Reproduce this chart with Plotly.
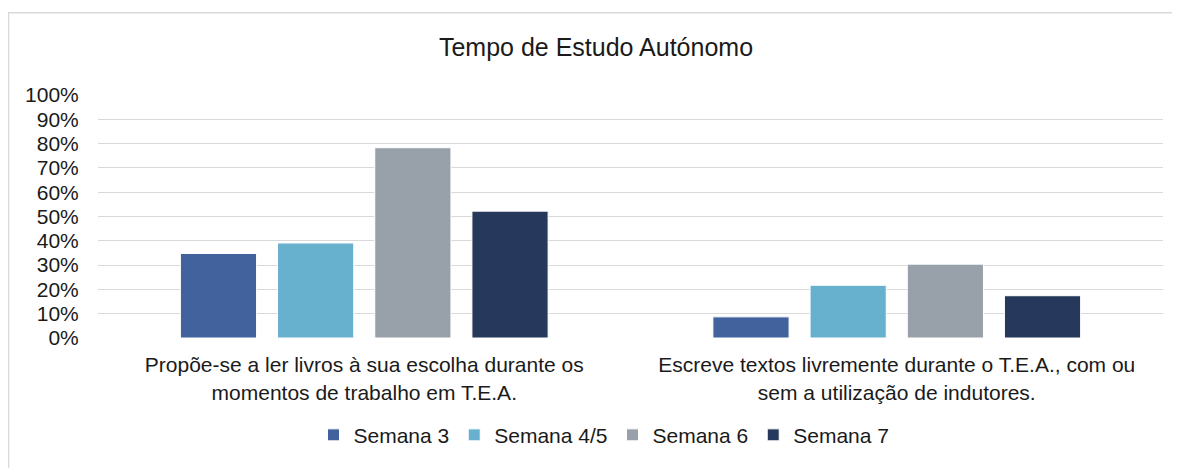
import plotly.graph_objects as go

categories = [
    "Propõe-se a ler livros à sua escolha durante os<br>momentos de trabalho em T.E.A.",
    "Escreve textos livremente durante o T.E.A., com ou<br>sem a utilização de indutores.",
]
series_names = ["Semana 3", "Semana 4/5", "Semana 6", "Semana 7"]
semana_3 = [0.348, 0.087]
semana_4_5 = [0.391, 0.217]
semana_6 = [0.783, 0.304]
semana_7 = [0.522, 0.174]
colors = ["#41629c", "#67b1ce", "#98a0aa", "#26385b"]

# page offset: the browser's default body margin is 8px
OFF = 8
PAGE_W, PAGE_H = 1180, 468
W, H = PAGE_W - OFF, PAGE_H - OFF
# plot area in page pixels: x 98..1163, y 95..340
ML, MR, MT, MB = 98 - OFF, PAGE_W - 1163, 95 - OFF, PAGE_H - 340
pw = W - ML - MR
ph = H - MT - MB


def px_x(page_x):
    return (page_x - 98) / pw


def px_y(page_y):
    return (340 - page_y) / ph


fig = go.Figure()
for name, vals, col in zip(series_names, [semana_3, semana_4_5, semana_6, semana_7], colors):
    fig.add_trace(go.Bar(
        x=categories, y=vals, name=name,
        marker=dict(color=col, line=dict(color="white", width=1)),
    ))

fig.update_layout(
    width=W, height=H,
    margin=dict(l=ML, r=MR, t=MT, b=MB, pad=0),
    paper_bgcolor="white", plot_bgcolor="white",
    font=dict(family="Liberation Sans, Arial, sans-serif", size=21, color="#1a1a1a"),
    title=dict(text="Tempo de Estudo Autónomo", x=(596 - OFF) / W, xref="container", xanchor="center",
               y=1 - (47 - OFF) / H, yref="container", yanchor="middle",
               font=dict(size=25, color="#1a1a1a")),
    barmode="group", bargap=0.27, bargroupgap=0.216,
    showlegend=True,
    legend=dict(orientation="h", x=px_x(604), xanchor="center", y=px_y(438), yref="paper",
                yanchor="middle", font=dict(size=21), itemwidth=30, traceorder="normal"),
    shapes=[dict(type="rect", xref="paper", yref="paper",
                 x0=px_x(8.5), x1=px_x(PAGE_W + 20),
                 y0=px_y(PAGE_H + 20), y1=px_y(12),
                 line=dict(color="#d9d9d9", width=1.5), fillcolor="rgba(0,0,0,0)", layer="below")],
)

fig.update_yaxes(range=[0, 1], dtick=0.1, tickformat=".0%", showgrid=True,
                 gridcolor="#d9d9d9", gridwidth=1.3, zeroline=False, showline=False,
                 ticks="outside", ticklen=14, tickcolor="rgba(0,0,0,0)",
                 tickfont=dict(size=21))
fig.update_xaxes(showgrid=False, showline=False, zeroline=False,
                 ticks="outside", ticklen=8, tickcolor="rgba(0,0,0,0)",
                 tickfont=dict(size=21))

fig.write_html("out.html")
